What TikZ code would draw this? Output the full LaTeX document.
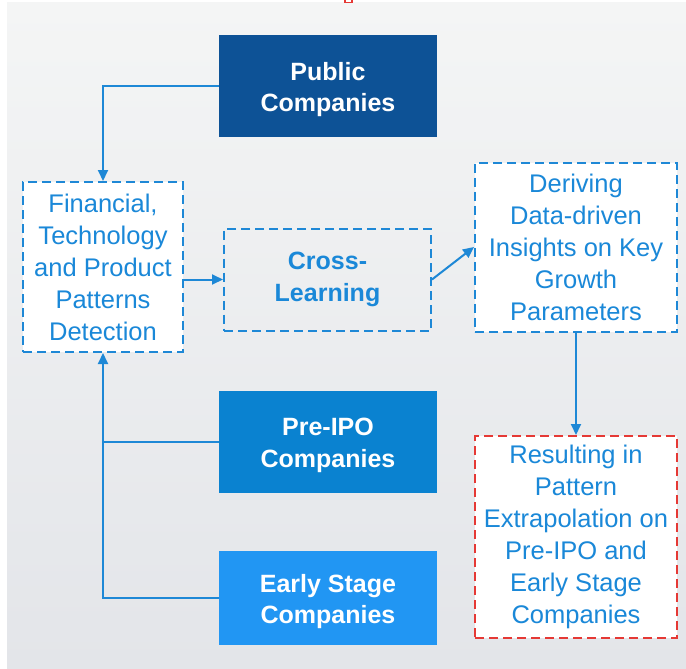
\documentclass[tikz,border=0pt]{standalone}
\usepackage{fontspec}
\setmainfont{Liberation Sans}
\usetikzlibrary{arrows.meta}
\definecolor{bgtop}{HTML}{F4F5F5}
\definecolor{bgbot}{HTML}{E3E5E9}
\definecolor{darkblue}{HTML}{0D5296}
\definecolor{midblue}{HTML}{0A82D0}
\definecolor{lightblue}{HTML}{2196F3}
\definecolor{lineblue}{HTML}{1E88D6}
\definecolor{txtblue}{HTML}{1A88D8}
\definecolor{redline}{HTML}{E53935}
\tikzset{
  solidbox/.style={draw=none, inner sep=0pt},
  solidtext/.style={text=white, align=center, inner sep=0pt, yshift=-3.5pt,
    font=\fontsize{25}{31.5}\selectfont\bfseries},
  dashbox/.style={draw=lineblue, line width=2pt, dash pattern=on 9pt off 5pt,
    text=txtblue, align=center, inner sep=0pt,
    font=\fontsize{25.5}{32}\selectfont},
  conn/.style={draw=lineblue, line width=2pt},
  arr/.style={conn, -{Triangle[length=11pt,width=10pt]}}
}
\begin{document}
\begin{tikzpicture}[x=1pt,y=-1pt]
\useasboundingbox (0,0) rectangle (686,669);
\shade[top color=bgtop, bottom color=bgbot] (7,3) rectangle (686,669);
\draw[redline, line width=1.5pt] (345,0) -- (345,2.5) -- (352,2.5) -- (352,0);

\node[solidbox, fill=darkblue, minimum width=218pt, minimum height=102pt,
  label={[solidtext]center:Public\\Companies}] (pub) at (328,86) {};
\node[dashbox, fill=white, minimum width=160pt, minimum height=170pt] (fin) at (103,267) {Financial,\\Technology\\and Product\\Patterns\\Detection};
\node[dashbox, font=\fontsize{25}{31.5}\selectfont\bfseries, minimum width=207pt, minimum height=102pt] (cross) at (327.5,279.5) {Cross-\\Learning};
\node[dashbox, fill=white, minimum width=202pt, minimum height=169pt] (der) at (576,247) {Deriving\\Data-driven\\Insights on Key\\Growth\\Parameters};
\node[solidbox, fill=midblue, minimum width=218pt, minimum height=102pt,
  label={[solidtext]center:Pre-IPO\\Companies}] (pre) at (328,442) {};
\node[solidbox, fill=lightblue, minimum width=218pt, minimum height=94pt,
  label={[solidtext]center:Early Stage\\Companies}] (early) at (328,598) {};
\node[dashbox, draw=redline, fill=white, minimum width=202pt, minimum height=202pt] (res) at (576,537) {Resulting in\\Pattern\\Extrapolation on\\Pre-IPO and\\Early Stage\\Companies};

\draw[arr] (pub.west) -| (fin.north);
\draw[arr] (cross.west -| fin.east) -- (cross.west);
\draw[arr] (cross.east) -- (der.west);
\draw[arr] (der.south) -- (res.north);
\draw[conn] (pre.west) -- (pre.west -| fin.south);
\draw[arr] (early.west) -| (fin.south);
\end{tikzpicture}
\end{document}
